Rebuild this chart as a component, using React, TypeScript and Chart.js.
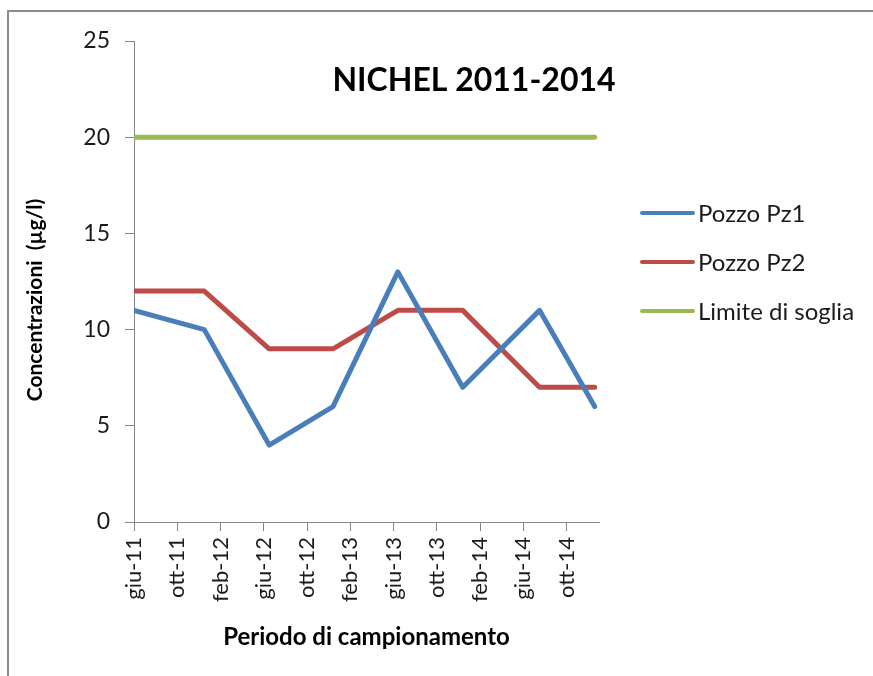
import React, { useEffect, useRef } from "react";
import { Chart, registerables } from "chart.js";

Chart.register(...registerables);

// Sampling dates expressed as months since June 2011
const sampleMonths = [0, 6.5, 12.5, 18.4, 24.4, 30.4, 37.5, 42.6];
const pozzoPz1 = [11, 10, 4, 6, 13, 7, 11, 6];
const pozzoPz2 = [12, 12, 9, 9, 11, 11, 7, 7];
const limiteSoglia = [20, 20, 20, 20, 20, 20, 20, 20];

const xTickMonths = [0, 4, 8, 12, 16, 20, 24, 28, 32, 36, 40];
const xTickLabels = ["giu-11", "ott-11", "feb-12", "giu-12", "ott-12", "feb-13", "giu-13", "ott-13", "feb-14", "giu-14", "ott-14"];
const yTicks = [0, 5, 10, 15, 20, 25];

const seriesNames = ["Pozzo Pz1", "Pozzo Pz2", "Limite di soglia"];
const seriesColors = ["#4A7EBB", "#BE4B48", "#98B954"];

const chartTitle = "NICHEL 2011-2014";
const yTitle = "Concentrazioni  (µg/l)";
const xTitle = "Periodo di campionamento";

const FONT = "Lato, 'Open Sans', sans-serif";

const toPoints = (vals: number[]) => vals.map((v, i) => ({ x: sampleMonths[i], y: v }));

const decorPlugin = {
  id: "decor",
  beforeDraw(chart: any) {
    const ctx = chart.ctx;
    ctx.save();
    ctx.fillStyle = "#ffffff";
    ctx.fillRect(0, 0, chart.width, chart.height);
    ctx.strokeStyle = "#8c8c8c";
    ctx.lineWidth = 2;
    ctx.strokeRect(8, 11, chart.width + 20, chart.height + 20);
    ctx.restore();
  },
  afterDraw(chart: any) {
    const ctx = chart.ctx;
    const area = chart.chartArea;
    ctx.save();
    ctx.fillStyle = "#000000";
    // chart title
    ctx.font = `bold 32px ${FONT}`;
    ctx.textAlign = "center";
    ctx.textBaseline = "alphabetic";
    ctx.fillText(chartTitle, 474, 91);
    // x axis title
    ctx.font = `bold 24px ${FONT}`;
    ctx.fillText(xTitle, (area.left + area.right) / 2, 645);
    // y axis title
    ctx.font = `bold 21px ${FONT}`;
    ctx.save();
    ctx.translate(42, 300);
    ctx.rotate(-Math.PI / 2);
    ctx.fillText(yTitle, 0, 0);
    ctx.restore();
    // legend
    ctx.font = `24px ${FONT}`;
    ctx.textAlign = "left";
    ctx.textBaseline = "middle";
    chart.data.datasets.forEach((ds: any, i: number) => {
      const y = 213 + i * 49;
      ctx.strokeStyle = ds.borderColor;
      ctx.lineWidth = 4;
      ctx.lineCap = "round";
      ctx.beginPath();
      ctx.moveTo(642, y);
      ctx.lineTo(693, y);
      ctx.stroke();
      ctx.fillStyle = "#1a1a1a";
      ctx.fillText(ds.label, 698, y + 1);
    });
    ctx.restore();
  },
};

export default function App() {
  const canvasRef = useRef<HTMLCanvasElement | null>(null);

  useEffect(() => {
    if (!canvasRef.current) return;
    const lineStyle = {
      borderWidth: 5,
      pointRadius: 0,
      tension: 0,
      borderCapStyle: "round",
      borderJoinStyle: "round",
      fill: false,
    };
    const chart = new Chart(canvasRef.current, {
      type: "line",
      data: {
        datasets: [
          { ...lineStyle, label: seriesNames[0], data: toPoints(pozzoPz1), borderColor: seriesColors[0], backgroundColor: seriesColors[0] },
          { ...lineStyle, label: seriesNames[1], data: toPoints(pozzoPz2), borderColor: seriesColors[1], backgroundColor: seriesColors[1] },
          { ...lineStyle, label: seriesNames[2], data: toPoints(limiteSoglia), borderColor: seriesColors[2], backgroundColor: seriesColors[2] },
        ],
      } as any,
      options: {
        animation: false,
        responsive: false,
        layout: { padding: { left: 0, top: 41, right: 274, bottom: 0 } },
        plugins: { legend: { display: false }, title: { display: false }, tooltip: { enabled: false } },
        scales: {
          x: {
            type: "linear",
            min: 0,
            max: 43,
            afterFit: (s: any) => { s.height = 154; },
            afterBuildTicks: (s: any) => { s.ticks = xTickMonths.map((v) => ({ value: v })); },
            ticks: {
              autoSkip: false,
              minRotation: 90,
              maxRotation: 90,
              padding: 6,
              color: "#1a1a1a",
              font: { family: FONT, size: 22 },
              callback: (v: any) => {
                const i = xTickMonths.indexOf(Number(v));
                return i >= 0 ? xTickLabels[i] : "";
              },
            },
            grid: { drawOnChartArea: false, color: "#868686", tickLength: 9 },
            border: { color: "#868686", width: 1 },
          },
          y: {
            type: "linear",
            min: 0,
            max: 25,
            afterFit: (s: any) => { s.width = 134; },
            afterBuildTicks: (s: any) => { s.ticks = yTicks.map((v) => ({ value: v })); },
            ticks: {
              padding: 15,
              color: "#1a1a1a",
              font: { family: FONT, size: 23 },
            },
            grid: { drawOnChartArea: false, color: "#868686", tickLength: 9 },
            border: { color: "#868686", width: 1 },
          },
        },
      } as any,
      plugins: [decorPlugin],
    });
    return () => chart.destroy();
  }, []);

  return (
    <div style={{ position: "fixed", left: 0, top: 0, width: 873, height: 676, background: "#fff" }}>
      <canvas ref={canvasRef} width={873} height={676} />
    </div>
  );
}
